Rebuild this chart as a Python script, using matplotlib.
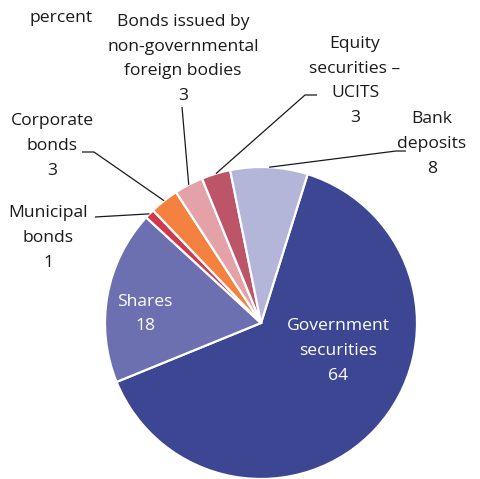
import numpy as np
import matplotlib
matplotlib.use("Agg")
import matplotlib.pyplot as plt

plt.rcParams['font.family'] = ['Open Sans', 'DejaVu Sans']

categories = ["Government\nsecurities", "Shares", "Municipal\nbonds", "Corporate\nbonds",
              "Bonds issued by\nnon-governmental\nforeign bodies", "Equity\nsecurities –\nUCITS",
              "Bank\ndeposits"]
values = [64, 18, 1, 3, 3, 3, 8]
colors = ["#3C4692", "#6C70B0", "#D0394D", "#F4813F", "#E5A1A8", "#BC5567", "#B3B5D9"]

W, H, DPI = 481, 479, 100
CX, CY, R = 261, 323, 156  # pie centre and radius in pixels

fig = plt.figure(figsize=(W / DPI, H / DPI), dpi=DPI)
ax = fig.add_axes([0, 0, 1, 1])


def px(x, y):
    return (x - CX) / R, (CY - y) / R


wedges, _ = ax.pie(values, colors=colors, startangle=72.6, counterclock=False,
                   radius=1.0, center=(0, 0),
                   wedgeprops=dict(edgecolor='white', linewidth=1.6))
ax.set_xlim(-CX / R, (W - CX) / R)
ax.set_ylim(-(H - CY) / R, CY / R)
ax.set_aspect('equal')
ax.axis('off')

fs = 12.6
ls = 1.72

# labels inside the pie
ax.text(*px(338, 351), f"{categories[0]}\n{values[0]}", ha='center', va='center',
        color='white', fontsize=fs, linespacing=ls)
ax.text(*px(145, 314), f"{categories[1]}\n{values[1]}", ha='center', va='center',
        color='white', fontsize=fs, linespacing=ls)

# outside labels: (index, text centre, leader start points)
outside = [
    (2, (48, 238), [(95, 217)]),
    (3, (52, 146), [(82, 152), (94, 152)]),
    (4, (183, 59), [(182, 107)]),
    (5, (355, 81), [(317, 95), (305, 95)]),
    (6, (432, 144), [(406, 151), (396, 151)]),
]
for i, (tx, ty), pts in outside:
    ax.text(*px(tx, ty), f"{categories[i]}\n{values[i]}", ha='center', va='center',
            color='#1a1a1a', fontsize=fs, linespacing=ls)
    w = wedges[i]
    mid = np.deg2rad((w.theta1 + w.theta2) / 2)
    path = [px(*p) for p in pts] + [(np.cos(mid), np.sin(mid))]
    xs, ys = zip(*path)
    ax.plot(xs, ys, color='#1a1a1a', lw=0.9, solid_capstyle='butt')

ax.text(*px(30, 18), "percent", ha='left', va='center', color='#1a1a1a', fontsize=fs)

fig.savefig("out.png", dpi=DPI)
